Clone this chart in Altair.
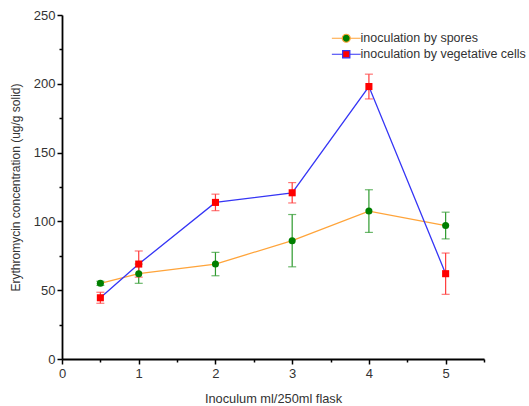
import altair as alt
import pandas as pd

x_vals = [0.5, 1, 2, 3, 4, 5]
series_names = ["inoculation by spores", "inoculation by vegetative cells"]
spores = [55, 62, 69, 86, 107.5, 97]
spores_err = [1.5, 7, 8.5, 19, 15.5, 9.7]
veg = [44.5, 69, 113.8, 120.8, 198, 62]
veg_err = [4, 9.5, 6, 7.4, 9, 15]

line_colors = ["#FFA43A", "#3535F5"]
marker_colors = ["#007F00", "#FF0000"]
bar_colors = ["#2E9A2E", "#FF3B3B"]
marker_shapes = ["circle", "square"]

rows = []
for name, ys, es in [(series_names[0], spores, spores_err), (series_names[1], veg, veg_err)]:
    for xv, yv, ev in zip(x_vals, ys, es):
        rows.append({"x": xv, "y": yv, "lo": yv - ev, "hi": yv + ev, "series": name})
df = pd.DataFrame(rows)

x_ticks = [i * 0.5 for i in range(12)]
y_ticks = [i * 25 for i in range(11)]

font = "Liberation Sans"
x_title = "Inoculum ml/250ml flask"
y_title = "Erythromycin concentration (ug/g solid)"

x_axis = alt.Axis(
    values=x_ticks, labelExpr="datum.value % 1 === 0 ? format(datum.value, 'd') : ''",
    title=x_title, grid=False, titleFontSize=12.8,
    tickSize={"condition": {"test": "datum.value % 1 === 0", "value": 5}, "value": 3},
    labelFlush=False, labelOverlap=False, labelPadding=3, titlePadding=12,
)
y_axis = alt.Axis(
    values=y_ticks, labelExpr="datum.value % 50 === 0 ? format(datum.value, 'd') : ''",
    title=y_title, grid=False, titleFontSize=12,
    tickSize={"condition": {"test": "datum.value % 50 === 0", "value": 5}, "value": 3},
    labelFlush=False, labelOverlap=False, labelPadding=2, titlePadding=11,
)

xs = alt.Scale(domain=[0, 5.5], nice=False)
ys = alt.Scale(domain=[0, 250], nice=False)

spore_path = "M-3.6,0H-1M1,0H3.6M1,0A1,1 0 1,1 -1,0A1,1 0 1,1 1,0Z"
veg_path = "M-3.6,0H-0.9M0.9,0H3.6M-0.9,-0.9H0.9V0.9H-0.9Z"

legend = alt.Legend(
    title=None, orient="none", legendX=278, legendY=17,
    symbolSize=64, symbolStrokeWidth=1.2, labelOffset=8, rowPadding=3,
    labelFont=font, labelFontSize=12.5, labelColor="#333333", padding=0,
    labelLimit=400, symbolOpacity=1,
)

base = alt.Chart(df)
X = alt.X("x:Q", scale=xs, axis=x_axis, title=x_title)

layers = []
for i, name in enumerate(series_names):
    layers.append(
        base.transform_filter(alt.datum.series == name).mark_line(strokeWidth=1.3, color=line_colors[i]).encode(
            x=X, y=alt.Y("y:Q", scale=ys, axis=y_axis, title=y_title)
        )
    )
for i, name in enumerate(series_names):
    layers.append(
        base.transform_filter(alt.datum.series == name)
        .mark_errorbar(ticks={"size": 8}, thickness=1.2, color=bar_colors[i])
        .encode(x=X, y=alt.Y("lo:Q", scale=ys, axis=y_axis, title=y_title), y2="hi:Q")
    )
for i, name in enumerate(series_names):
    layers.append(
        base.transform_filter(alt.datum.series == name)
        .mark_point(filled=True, opacity=1, size=50, strokeWidth=0, fill=marker_colors[i], shape=marker_shapes[i])
        .encode(x=X, y=alt.Y("y:Q", scale=ys, axis=y_axis, title=y_title))
    )

legend_layer = base.transform_filter("false").mark_point(filled=True, opacity=1, size=64, strokeWidth=1.2).encode(
    x=X,
    y=alt.Y("y:Q", scale=ys, axis=y_axis, title=y_title),
    stroke=alt.Stroke("series:N", scale=alt.Scale(domain=series_names, range=line_colors), legend=legend),
    fill=alt.Fill("series:N", scale=alt.Scale(domain=series_names, range=marker_colors), legend=legend),
    shape=alt.Shape("series:N", scale=alt.Scale(domain=series_names, range=[spore_path, veg_path]), legend=legend),
)
layers.append(legend_layer)

chart = alt.layer(*layers).properties(
    width=422, height=344,
    autosize="none",
    padding={"left": 62, "top": 15, "right": 45, "bottom": 47},
).configure_view(stroke=None).configure_axis(
    domainColor="black", domainWidth=1.8, tickColor="black", tickWidth=1.5,
    labelFont=font, labelFontSize=13, labelColor="#333333",
    titleFont=font, titleColor="#333333", titleFontWeight="normal",
)

chart.save("out.html", embed_options={"renderer": "svg", "actions": False})
